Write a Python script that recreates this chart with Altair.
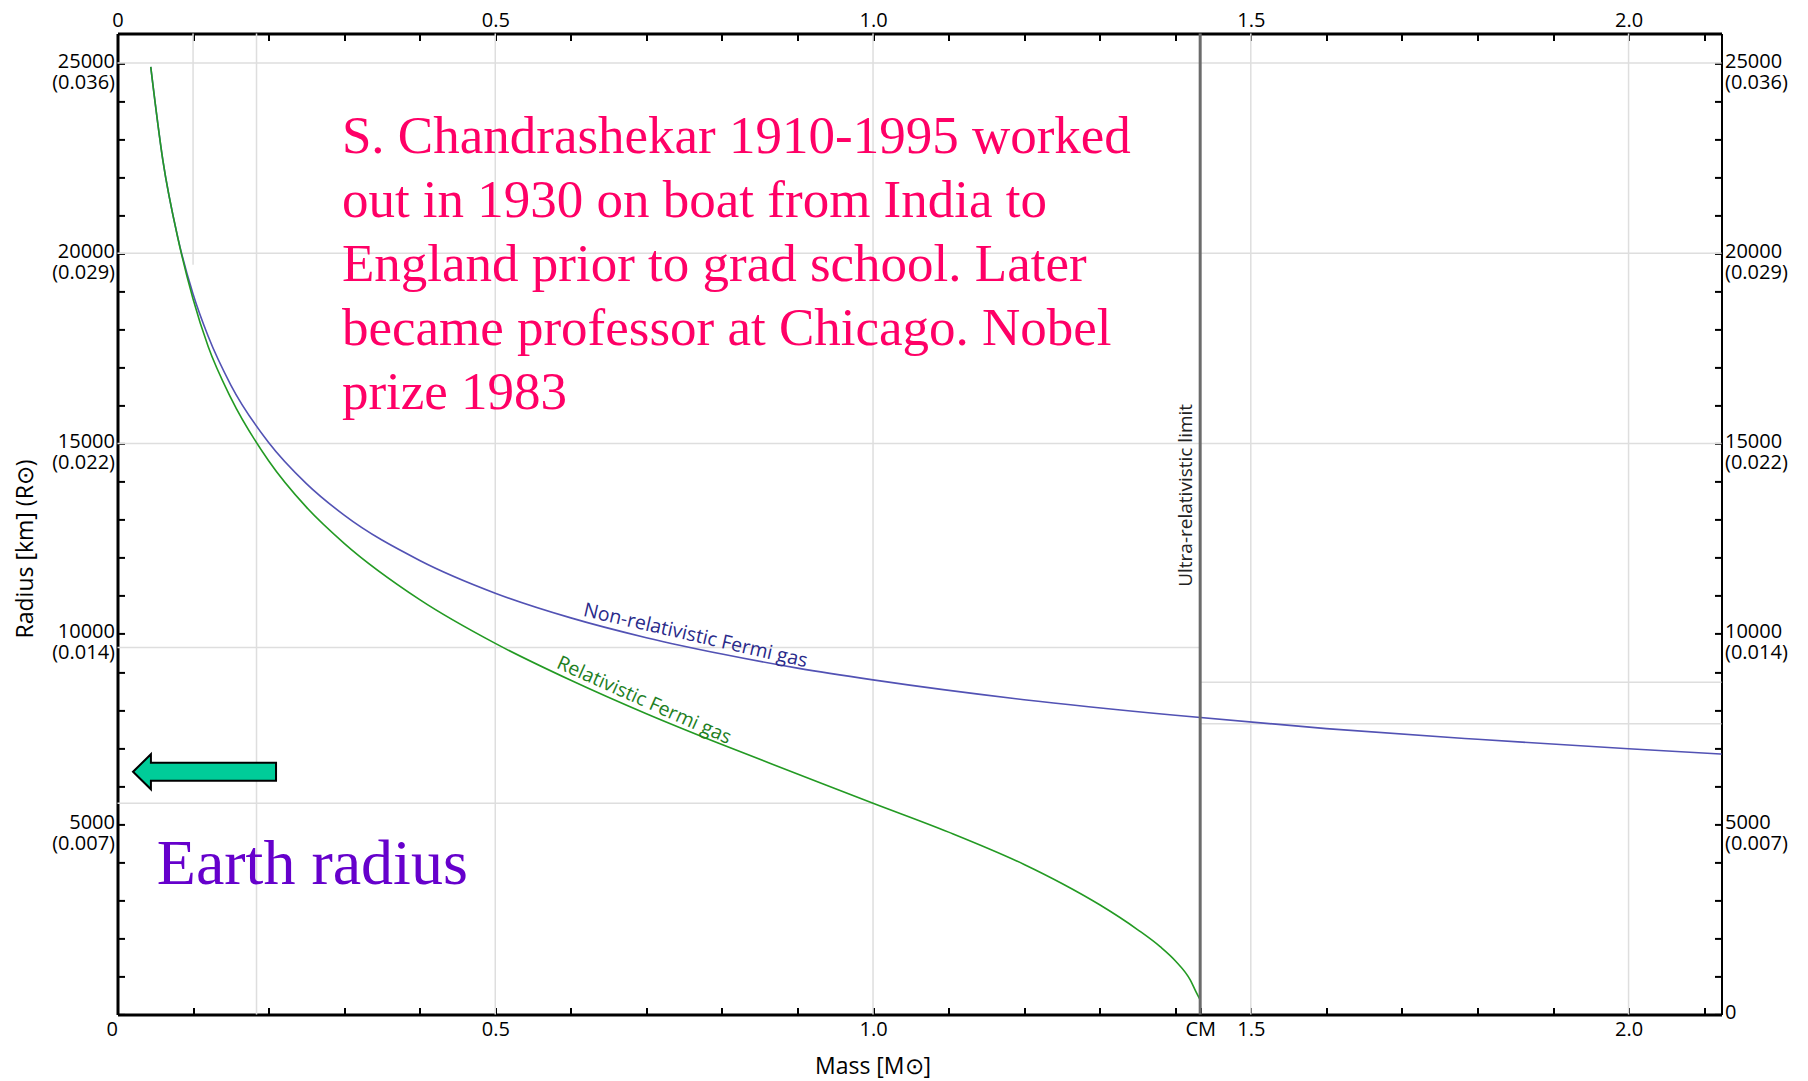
import altair as alt
import pandas as pd

# ---------------- data ----------------
X_MAX = 2.123
Y_MAX = 25780
CM_MASS = 1.433

mass_nr = [0.044, 0.06, 0.08, 0.10, 0.12, 0.15, 0.20, 0.25, 0.30, 0.40, 0.50, 0.60,
           0.70, 0.80, 0.90, 1.00, 1.20, 1.40, 1.60, 1.80, 2.00, 2.123]
radius_nr = [24900, 22450, 20400, 18930, 17820, 16540, 15030, 13950, 13120, 11930, 11070, 10420,
             9900, 9470, 9100, 8790, 8270, 7860, 7510, 7230, 6980, 6840]

mass_rel = [0.044, 0.06, 0.08, 0.10, 0.12, 0.15, 0.20, 0.25, 0.30, 0.40, 0.50, 0.60, 0.70,
            0.80, 0.90, 1.00, 1.10, 1.20, 1.25, 1.30, 1.35, 1.38, 1.40, 1.42, 1.428, 1.433]
radius_rel = [24900, 22450, 20390, 18800, 17550, 16200, 14550, 13330, 12380, 10900, 9750, 8780, 7900,
              7090, 6320, 5550, 4790, 3940, 3440, 2880, 2230, 1780, 1410, 900, 570, 380]

x_tick_values = [0.0, 0.1, 0.2, 0.3, 0.4, 0.5, 0.6, 0.7, 0.8, 0.9, 1.0, 1.1, 1.2, 1.3, 1.4,
                 1.5, 1.6, 1.7, 1.8, 1.9, 2.0, 2.1]
x_bottom_ticks = x_tick_values + [CM_MASS]
x_bottom_labels = [(0, "0"), (0.5, "0.5"), (1.0, "1.0"), (CM_MASS, "CM"), (1.5, "1.5"), (2.0, "2.0")]
x_top_labels = [(0, "0"), (0.5, "0.5"), (1.0, "1.0"), (1.5, "1.5"), (2.0, "2.0")]

y_tick_values = list(range(0, 26000, 1000))
y_major = [5000, 10000, 15000, 20000, 25000]
y_major_solar = ["(0.007)", "(0.014)", "(0.022)", "(0.029)", "(0.036)"]

hgrid_r = [25000, 20000, 15000, 9640, 8730, 7640, 5550]
hgrid_from = [0, 0, 0, 0, CM_MASS, CM_MASS, 0]
hgrid_to = [X_MAX, X_MAX, X_MAX, CM_MASS, X_MAX, X_MAX, 1.0]

vgrid_m = [0.1, 0.184, 0.5, 1.0, 1.5, 2.0]
vgrid_from = [19700, 0, 0, 0, 0, 0]
vgrid_to = [Y_MAX, Y_MAX, Y_MAX, Y_MAX, Y_MAX, Y_MAX]

note_text = ("S. Chandrashekar 1910-1995 worked\nout in 1930 on boat from India to\n"
             "England prior to grad school. Later\nbecame professor at Chicago. Nobel\nprize 1983")
note_pos = (0.297, 22640)
earth_text = "Earth radius"
earth_pos = (0.052, 3434)
arrow_pos = (0.1152, 6377)
limit_text = "Ultra-relativistic limit"
limit_pos = (CM_MASS, 13640)
nr_label = "Non-relativistic Fermi gas"
nr_label_pos = (0.765, 9950)
rel_label = "Relativistic Fermi gas"
rel_label_pos = (0.697, 8250)

# ---------------- tables ----------------
curves = pd.DataFrame(
    {"m": mass_nr + mass_rel,
     "r": radius_nr + radius_rel,
     "series": ["nr"] * len(mass_nr) + ["rel"] * len(mass_rel)}
)
hgrid = pd.DataFrame({"r": hgrid_r, "m_from": hgrid_from, "m_to": hgrid_to})
vgrid = pd.DataFrame({"m": vgrid_m, "r_from": vgrid_from, "r_to": vgrid_to})


def label_expr(pairs):
    expr = "''"
    for v, lab in reversed(pairs):
        expr = f"datum.value == {v} ? {lab} : ({expr})"
    return expr


bottom_expr = label_expr([(v, f"'{t}'") for v, t in x_bottom_labels])
top_expr = label_expr([(v, f"'{t}'") for v, t in x_top_labels])
left_pairs = [(v, f"['{v}', '{s}']") for v, s in zip(y_major, y_major_solar)]
left_expr = label_expr(left_pairs)
right_expr = label_expr([(0, "'0'")] + left_pairs)

FONT = "Open Sans"
common_axis = dict(
    grid=False, domainColor="black", tickColor="black", tickWidth=2,
    tickSize={"expr": "-7"}, labelFont=FONT, labelFontSize=20, labelColor="black",
    labelOverlap=False, labelFlush=False, titleFont=FONT, titleFontSize=23,
    titleFontWeight="normal", titleColor="black",
)

x_axis_bottom = alt.Axis(
    orient="bottom", values=x_bottom_ticks, labelExpr=bottom_expr, title="Mass [M⊙]",
    domainWidth=3, labelPadding=12,
    labelAlign={"condition": {"test": "datum.value == 0", "value": "right"}, "value": "center"},
    titleX=755, titleY=52, titleBaseline="middle", titleAlign="center", **common_axis)
x_axis_top = alt.Axis(
    orient="top", values=x_tick_values, labelExpr=top_expr, title=None,
    domainWidth=3, labelPadding=10, **common_axis)
y_axis_left = alt.Axis(
    orient="left", values=y_tick_values, labelExpr=left_expr, title="Radius [km] (R⊙)",
    domainWidth=3, labelPadding=10, labelBaseline="top", labelOffset=-12, labelLineHeight=21,
    titleX=-92, titleY=515, titleBaseline="middle", titleAlign="center", titleAngle=270,
    **common_axis)
y_axis_right = alt.Axis(
    orient="right", values=y_tick_values, labelExpr=right_expr, title=None,
    domainWidth=2, labelPadding=10, labelBaseline="top", labelOffset=-12, labelLineHeight=21,
    **common_axis)

xscale = alt.Scale(domain=[0, X_MAX], nice=False, zero=False)
yscale = alt.Scale(domain=[0, Y_MAX], nice=False, zero=False)


def X(field):
    return alt.X(field, type="quantitative", scale=xscale, axis=x_axis_bottom)


def Y(field):
    return alt.Y(field, type="quantitative", scale=yscale, axis=y_axis_left)


grid_h = alt.Chart(hgrid).mark_rule(color="#dedede", strokeWidth=1.5).encode(
    x=X("m_from"), x2="m_to", y=Y("r"))
grid_v = alt.Chart(vgrid).mark_rule(color="#dedede", strokeWidth=1.5).encode(
    x=X("m"), y=Y("r_from"), y2="r_to")

lines = alt.Chart(curves).mark_line(strokeWidth=1.6, interpolate="monotone").encode(
    x=X("m"), y=Y("r"),
    color=alt.Color("series:N", scale=alt.Scale(domain=["nr", "rel"], range=["#5252b4", "#239a23"]),
                    legend=None),
)

cm_rule = alt.Chart(pd.DataFrame({"m": [CM_MASS]})).mark_rule(color="#6b6b6b", strokeWidth=3).encode(
    x=X("m"))

limit_lbl = alt.Chart(pd.DataFrame({"m": [limit_pos[0]], "r": [limit_pos[1]], "t": [limit_text]})).mark_text(
    angle=270, font=FONT, fontSize=19, color="#222222", baseline="bottom", align="center", dy=-4
).encode(x=X("m"), y=Y("r"), text="t:N")

nr_lbl = alt.Chart(pd.DataFrame({"m": [nr_label_pos[0]], "r": [nr_label_pos[1]], "t": [nr_label]})).mark_text(
    angle=13, font=FONT, fontSize=19.5, color="#2a2a8a", baseline="middle", align="center"
).encode(x=X("m"), y=Y("r"), text="t:N")

rel_lbl = alt.Chart(pd.DataFrame({"m": [rel_label_pos[0]], "r": [rel_label_pos[1]], "t": [rel_label]})).mark_text(
    angle=24, font=FONT, fontSize=19.5, color="#1f801f", baseline="middle", align="center"
).encode(x=X("m"), y=Y("r"), text="t:N")

note = alt.Chart(pd.DataFrame({"m": [note_pos[0]], "r": [note_pos[1]], "t": [note_text]})).mark_text(
    font="Liberation Serif", fontSize=53, color="#ff0066", align="left", baseline="alphabetic",
    lineBreak="\n", lineHeight=64
).encode(x=X("m"), y=Y("r"), text="t:N")

earth = alt.Chart(pd.DataFrame({"m": [earth_pos[0]], "r": [earth_pos[1]], "t": [earth_text]})).mark_text(
    font="Liberation Serif", fontSize=64, color="#6600cc", align="left", baseline="alphabetic"
).encode(x=X("m"), y=Y("r"), text="t:N")

ARROW = "M -1 0 L -0.75 -0.245 L -0.75 -0.126 L 1 -0.126 L 1 0.126 L -0.75 0.126 L -0.75 0.245 Z"
arrow = alt.Chart(pd.DataFrame({"m": [arrow_pos[0]], "r": [arrow_pos[1]]})).mark_point(
    shape=ARROW, size=143 * 143, filled=True, fill="#00cc99", stroke="black", strokeWidth=2, opacity=1
).encode(x=X("m"), y=Y("r"))

main = alt.layer(grid_h, grid_v, lines, cm_rule, limit_lbl, nr_lbl, rel_lbl, note, earth, arrow)

top_right = alt.Chart(curves).mark_point(opacity=0).encode(
    x=alt.X("m:Q", scale=xscale, axis=x_axis_top),
    y=alt.Y("r:Q", scale=yscale, axis=y_axis_right),
)

chart = alt.layer(main, top_right).resolve_scale(x="independent", y="independent").properties(
    width=1604, height=981,
    autosize=alt.AutoSizeParams(type="none"),
    padding={"left": 117.5, "top": 33.4, "right": 86.5, "bottom": 66.6},
    background="white",
).configure_view(stroke=None)

chart.save("out.html", embed_options={"renderer": "svg", "actions": False})
